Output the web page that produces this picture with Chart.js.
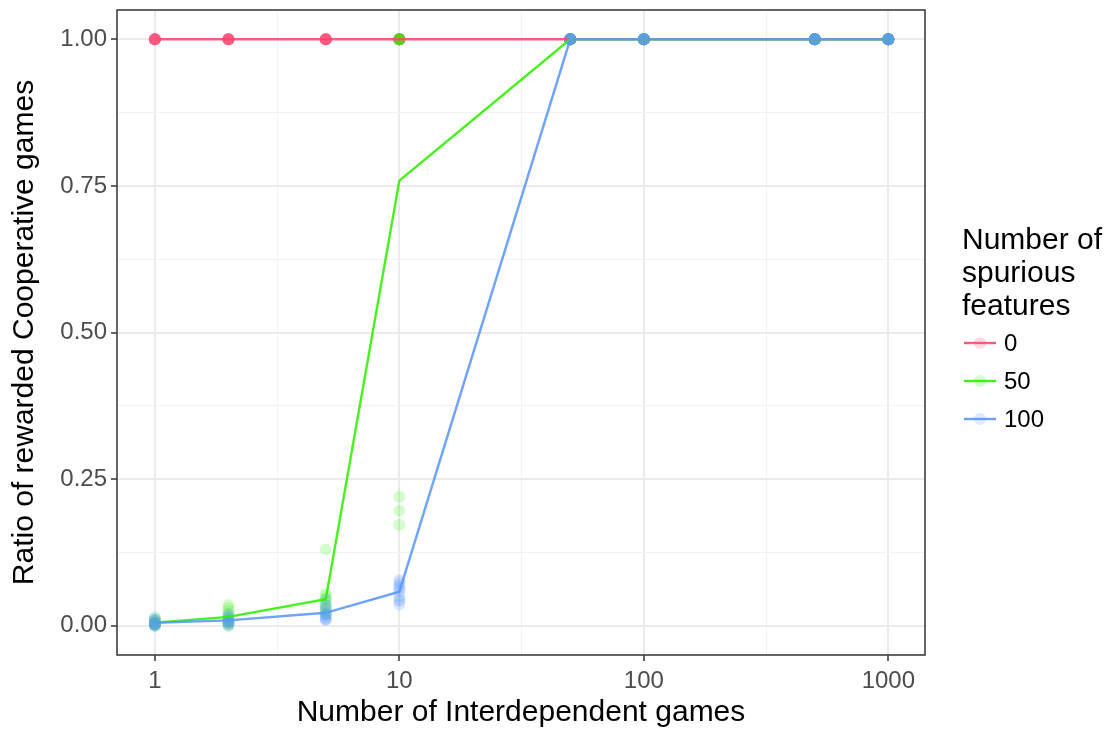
<!DOCTYPE html>
<html>
<head>
<meta charset="utf-8">
<script src="https://cdn.jsdelivr.net/npm/chart.js@4/dist/chart.umd.min.js"></script>
<style>
  html, body { margin: 0; padding: 0; background: #ffffff; }
  canvas { display: block; }
</style>
</head>
<body>
<canvas id="chart" width="1112" height="731"></canvas>
<script>
// Number of interdependent games played (log x axis)
const games = [1, 2, 5, 10, 50, 100, 500, 1000];

// Legend categories: number of spurious features
const spuriousLevels = ['0', '50', '100'];

// Mean ratio of rewarded cooperative games per number of games
const mean0   = [1, 1, 1, 1, 1, 1, 1, 1];
const mean50  = [0.005, 0.015, 0.045, 0.759, 1, 1, 1, 1];
const mean100 = [0.005, 0.009, 0.022, 0.058, 1, 1, 1, 1];

// Individual runs (10 per setting), one inner list per entry of `games`
const runs0 = [
  [1, 1, 1, 1, 1, 1, 1, 1, 1, 1],
  [1, 1, 1, 1, 1, 1, 1, 1, 1, 1],
  [1, 1, 1, 1, 1, 1, 1, 1, 1, 1],
  [1, 1, 1, 1, 1, 1, 1, 1, 1, 1],
  [1, 1, 1, 1, 1, 1, 1, 1, 1, 1],
  [1, 1, 1, 1, 1, 1, 1, 1, 1, 1],
  [1, 1, 1, 1, 1, 1, 1, 1, 1, 1],
  [1, 1, 1, 1, 1, 1, 1, 1, 1, 1]
];
const runs50 = [
  [0, 0.003, 0.005, 0.008, 0.01, 0.012, 0.004, 0.002, 0.006, 0],
  [0.035, 0.03, 0.025, 0.02, 0.015, 0.01, 0.007, 0.005, 0.003, 0],
  [0.13, 0.055, 0.05, 0.045, 0.04, 0.035, 0.03, 0.025, 0.02, 0.02],
  [0.22, 0.196, 0.172, 1, 1, 1, 1, 1, 1, 1],
  [1, 1, 1, 1, 1, 1, 1, 1, 1, 1],
  [1, 1, 1, 1, 1, 1, 1, 1, 1, 1],
  [1, 1, 1, 1, 1, 1, 1, 1, 1, 1],
  [1, 1, 1, 1, 1, 1, 1, 1, 1, 1]
];
const runs100 = [
  [0.015, 0.01, 0.008, 0.005, 0.004, 0.003, 0.002, 0.002, 0.001, 0],
  [0.02, 0.016, 0.013, 0.011, 0.009, 0.007, 0.006, 0.005, 0.003, 0],
  [0.045, 0.035, 0.03, 0.025, 0.02, 0.018, 0.015, 0.012, 0.01, 0.01],
  [0.078, 0.074, 0.07, 0.066, 0.062, 0.058, 0.05, 0.044, 0.042, 0.036],
  [1, 1, 1, 1, 1, 1, 1, 1, 1, 1],
  [1, 1, 1, 1, 1, 1, 1, 1, 1, 1],
  [1, 1, 1, 1, 1, 1, 1, 1, 1, 1],
  [1, 1, 1, 1, 1, 1, 1, 1, 1, 1]
];

// Axis breaks and labels
const xMajorTicks = [1, 10, 100, 1000];
const xTickLabels = ['1', '10', '100', '1000'];
const xMinorTicks = [Math.sqrt(10), Math.sqrt(1000), Math.sqrt(100000)];
const yMajorTicks = [0, 0.25, 0.5, 0.75, 1];
const yTickLabels = ['0.00', '0.25', '0.50', '0.75', '1.00'];
const yMinorTicks = [0.125, 0.375, 0.625, 0.875];

const seriesColors = ['255,70,115', '45,240,0', '90,150,255'];
const seriesMeans = [mean0, mean50, mean100];
const seriesRuns = [runs0, runs50, runs100];

const FONT = "'Liberation Sans', Arial, Helvetica, sans-serif";

function runPoints(runs) {
  const pts = [];
  games.forEach((g, i) => runs[i].forEach(v => pts.push({ x: g, y: v })));
  return pts;
}

const datasets = [];
spuriousLevels.forEach((lvl, k) => {
  datasets.push({
    type: 'scatter',
    label: lvl + ' runs',
    data: runPoints(seriesRuns[k]),
    backgroundColor: 'rgba(' + seriesColors[k] + ',0.2)',
    borderWidth: 0,
    pointRadius: 6,
    order: 60 - k * 10
  });
});
spuriousLevels.forEach((lvl, k) => {
  datasets.push({
    type: 'line',
    label: lvl,
    data: games.map((g, i) => ({ x: g, y: seriesMeans[k][i] })),
    borderColor: 'rgba(' + seriesColors[k] + ',0.88)',
    borderWidth: 2.4,
    pointRadius: 0,
    tension: 0,
    fill: false,
    order: 30 - k * 10
  });
});

const xMajorSet = new Set(xMajorTicks);
const yMajorSet = new Set(yMajorTicks);

function isMajorTick(ctx, set) {
  return ctx.tick && set.has(ctx.tick.value);
}

// Panel frame and the legend with its three-line title
const framePlugin = {
  id: 'frameAndLegend',
  afterDraw(chart) {
    const { ctx, chartArea } = chart;
    ctx.save();
    ctx.strokeStyle = '#333333';
    ctx.lineWidth = 1.5;
    ctx.strokeRect(chartArea.left, chartArea.top,
      chartArea.right - chartArea.left, chartArea.bottom - chartArea.top);

    ctx.fillStyle = '#000000';
    ctx.font = '30px ' + FONT;
    ctx.textAlign = 'left';
    ctx.textBaseline = 'alphabetic';
    const titleLines = ['Number of', 'spurious', 'features'];
    titleLines.forEach((t, i) => ctx.fillText(t, 962, 249 + i * 33));

    ctx.font = '24px ' + FONT;
    ctx.textBaseline = 'middle';
    spuriousLevels.forEach((lvl, k) => {
      const y = 343 + k * 38;
      ctx.fillStyle = 'rgba(' + seriesColors[k] + ',0.2)';
      ctx.beginPath();
      ctx.arc(980, y, 6, 0, Math.PI * 2);
      ctx.fill();
      ctx.strokeStyle = 'rgba(' + seriesColors[k] + ',0.9)';
      ctx.lineWidth = 2.4;
      ctx.beginPath();
      ctx.moveTo(964, y);
      ctx.lineTo(996, y);
      ctx.stroke();
      ctx.fillStyle = '#000000';
      ctx.fillText(lvl, 1004, y + 1);
    });
    ctx.restore();
  }
};

new Chart(document.getElementById('chart'), {
  data: { datasets },
  options: {
    responsive: false,
    animation: false,
    events: [],
    layout: { padding: { left: 0, right: 187, top: 10, bottom: 0 } },
    plugins: { legend: { display: false }, tooltip: { enabled: false } },
    scales: {
      x: {
        type: 'logarithmic',
        position: 'bottom',
        min: Math.pow(10, -0.15),
        max: Math.pow(10, 3.15),
        afterBuildTicks(scale) {
          scale.ticks = xMajorTicks.concat(xMinorTicks)
            .sort((a, b) => a - b).map(v => ({ value: v }));
        },
        afterFit(scale) {
          scale.height = 76;
          scale.paddingLeft = 0;
          scale.paddingRight = 0;
        },
        border: { display: false },
        grid: {
          color: ctx => isMajorTick(ctx, xMajorSet) ? '#EBEBEB' : '#F3F3F3',
          lineWidth: ctx => isMajorTick(ctx, xMajorSet) ? 2 : 1,
          tickColor: ctx => isMajorTick(ctx, xMajorSet) ? '#333333' : 'rgba(0,0,0,0)',
          tickWidth: 1.5,
          tickLength: 6,
          drawTicks: true
        },
        ticks: {
          autoSkip: false,
          maxRotation: 0,
          padding: 6,
          color: '#4D4D4D',
          font: { family: FONT, size: 24 },
          callback(value) {
            const i = xMajorTicks.indexOf(value);
            return i >= 0 ? xTickLabels[i] : '';
          }
        },
        title: {
          display: true,
          text: 'Number of Interdependent games',
          color: '#000000',
          font: { family: FONT, size: 30 },
          padding: { top: 0, bottom: 0 }
        }
      },
      y: {
        type: 'linear',
        min: -0.05,
        max: 1.05,
        afterBuildTicks(scale) {
          scale.ticks = yMajorTicks.concat(yMinorTicks)
            .sort((a, b) => a - b).map(v => ({ value: v }));
        },
        afterFit(scale) {
          scale.width = 117;
          scale.paddingTop = 0;
          scale.paddingBottom = 0;
        },
        border: { display: false },
        grid: {
          color: ctx => isMajorTick(ctx, yMajorSet) ? '#EBEBEB' : '#F3F3F3',
          lineWidth: ctx => isMajorTick(ctx, yMajorSet) ? 2 : 1,
          tickColor: ctx => isMajorTick(ctx, yMajorSet) ? '#333333' : 'rgba(0,0,0,0)',
          tickWidth: 1.5,
          tickLength: 6,
          drawTicks: true
        },
        ticks: {
          autoSkip: false,
          padding: 4,
          color: '#4D4D4D',
          font: { family: FONT, size: 24 },
          callback(value) {
            const i = yMajorTicks.indexOf(value);
            return i >= 0 ? yTickLabels[i] : '';
          }
        },
        title: {
          display: true,
          text: 'Ratio of rewarded Cooperative games',
          color: '#000000',
          font: { family: FONT, size: 30 },
          padding: { top: 7, bottom: 0 }
        }
      }
    }
  },
  plugins: [framePlugin]
});
</script>
</body>
</html>
